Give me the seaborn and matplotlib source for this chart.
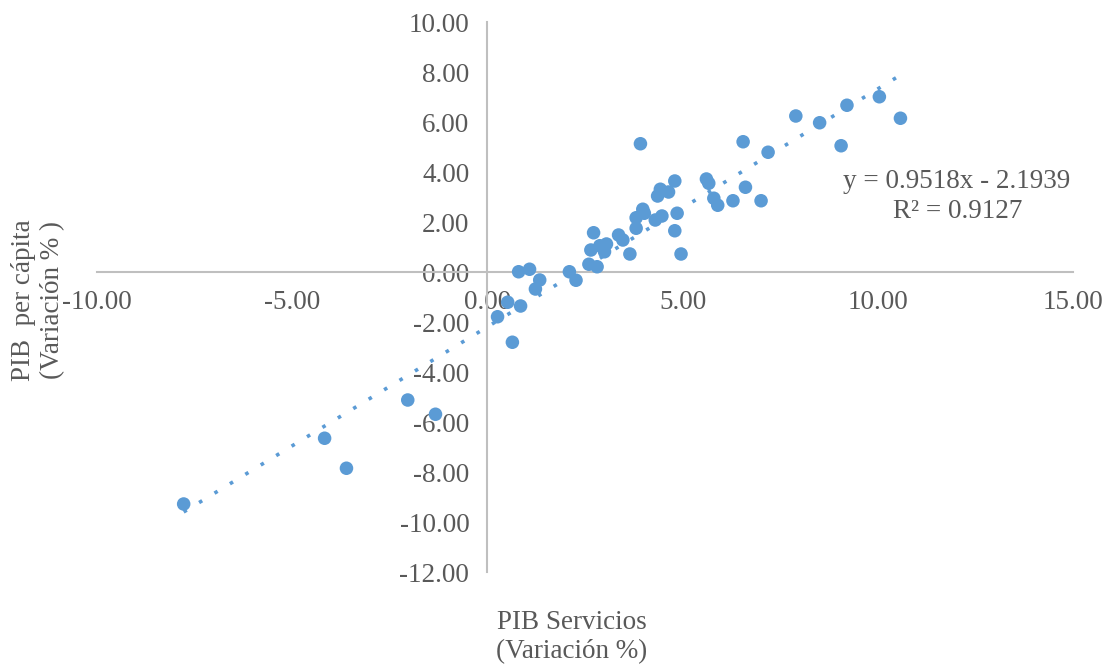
import numpy as np
import pandas as pd
import matplotlib
matplotlib.use("Agg")
import matplotlib.pyplot as plt
import seaborn as sns

# Data (PIB Servicios vs PIB per cápita, variación %)
pib_servicios = [-7.78, -4.17, -3.61, -2.04, -1.33, 0.26, 0.52, 0.64, 0.85,
                 0.80, 1.08, 1.34, 1.23, 2.10, 2.27, 2.60, 2.81, 2.65, 2.72,
                 2.88, 3.05, 3.00, 3.36, 3.47, 3.65, 3.81, 3.81, 3.98, 4.02,
                 3.92, 4.30, 4.47, 4.36, 4.43, 4.64, 4.80, 4.86, 4.80, 4.96,
                 5.61, 5.67, 5.80, 5.90, 6.29, 6.61, 7.01, 6.55, 7.19, 7.90,
                 8.51, 9.21, 10.04, 10.58, 9.06]
pib_per_capita = [-9.28, -6.65, -7.85, -5.12, -5.69, -1.79, -1.21, -2.81, -1.36,
                  0.01, 0.11, -0.32, -0.68, 0.01, -0.33, 0.31, 0.21, 0.88, 1.57,
                  1.05, 1.12, 0.81, 1.48, 1.28, 0.72, 1.75, 2.17, 2.51, 2.35,
                  5.13, 2.08, 2.24, 3.04, 3.31, 3.20, 3.64, 2.35, 1.65, 0.72,
                  3.72, 3.55, 2.95, 2.67, 2.85, 3.39, 2.85, 5.21, 4.79, 6.24,
                  5.97, 6.67, 7.01, 6.15, 5.05]
slope, intercept = 0.9518, -2.1939
r2 = 0.9127

x_ticks = [-10, -5, 0, 5, 10, 15]
y_ticks = [-12, -10, -8, -6, -4, -2, 0, 2, 4, 6, 8, 10]

df = pd.DataFrame({"x": pib_servicios, "y": pib_per_capita})

sns.set_style("white")
plt.rcParams["font.family"] = ["Liberation Serif", "DejaVu Serif"]

blue = "#5B9BD5"
gray_txt = "#595959"
gray_line = "#BFBFBF"

fig = plt.figure(figsize=(11.15, 6.67), dpi=100)
ax = fig.add_axes([97 / 1115, 1 - 572 / 667, (1073 - 97) / 1115, (572 - 22) / 667])

sns.scatterplot(data=df, x="x", y="y", ax=ax, color=blue, s=95,
                edgecolor="none", zorder=3)

# Linear trendline (dotted)
xs = np.linspace(min(pib_servicios), max(pib_servicios), 200)
ax.plot(xs, slope * xs + intercept, color=blue, linestyle=(0, (1, 4)),
        linewidth=2.6, zorder=2, dash_capstyle="butt")

ax.set_xlim(-10, 15)
ax.set_ylim(-12, 10)
ax.set_xticks(x_ticks)
ax.set_yticks(y_ticks)
ax.set_xticklabels([f"{v:.2f}" for v in x_ticks])
ax.set_yticklabels([f"{v:.2f}" for v in y_ticks])

for s in ["top", "right"]:
    ax.spines[s].set_visible(False)
ax.spines["left"].set_position(("data", 0))
ax.spines["bottom"].set_position(("data", 0))
for s in ["left", "bottom"]:
    ax.spines[s].set_color(gray_line)
    ax.spines[s].set_linewidth(1.5)
    ax.spines[s].set_zorder(1)

ax.tick_params(axis="both", colors=gray_line, labelcolor=gray_txt,
               labelsize=19.5, length=7, width=1.5, direction="out")
ax.tick_params(axis="x", pad=6)
ax.tick_params(axis="y", pad=6)
ax.set_xlabel("")
ax.set_ylabel("")

ax.text(957 / 1115, 1 - 182 / 667, f"y = {slope:.4f}x - {abs(intercept):.4f}",
        transform=fig.transFigure, ha="center", va="center",
        fontsize=19.5, color=gray_txt)
ax.text(958 / 1115, 1 - 212 / 667, f"R² = {r2:.4f}",
        transform=fig.transFigure, ha="center", va="center",
        fontsize=19.5, color=gray_txt)

fig.text(38 / 1115, 1 - 300 / 667, "PIB  per cápita\n(Variación % )",
         rotation=90, ha="center", va="center", multialignment="center",
         fontsize=19.5, color=gray_txt, linespacing=1.2)
fig.text(572 / 1115, 1 - 637 / 667, "PIB Servicios\n(Variación %)",
         ha="center", va="center", multialignment="center",
         fontsize=19.5, color=gray_txt, linespacing=1.2)

fig.savefig("out.png", dpi=100, facecolor="white")
